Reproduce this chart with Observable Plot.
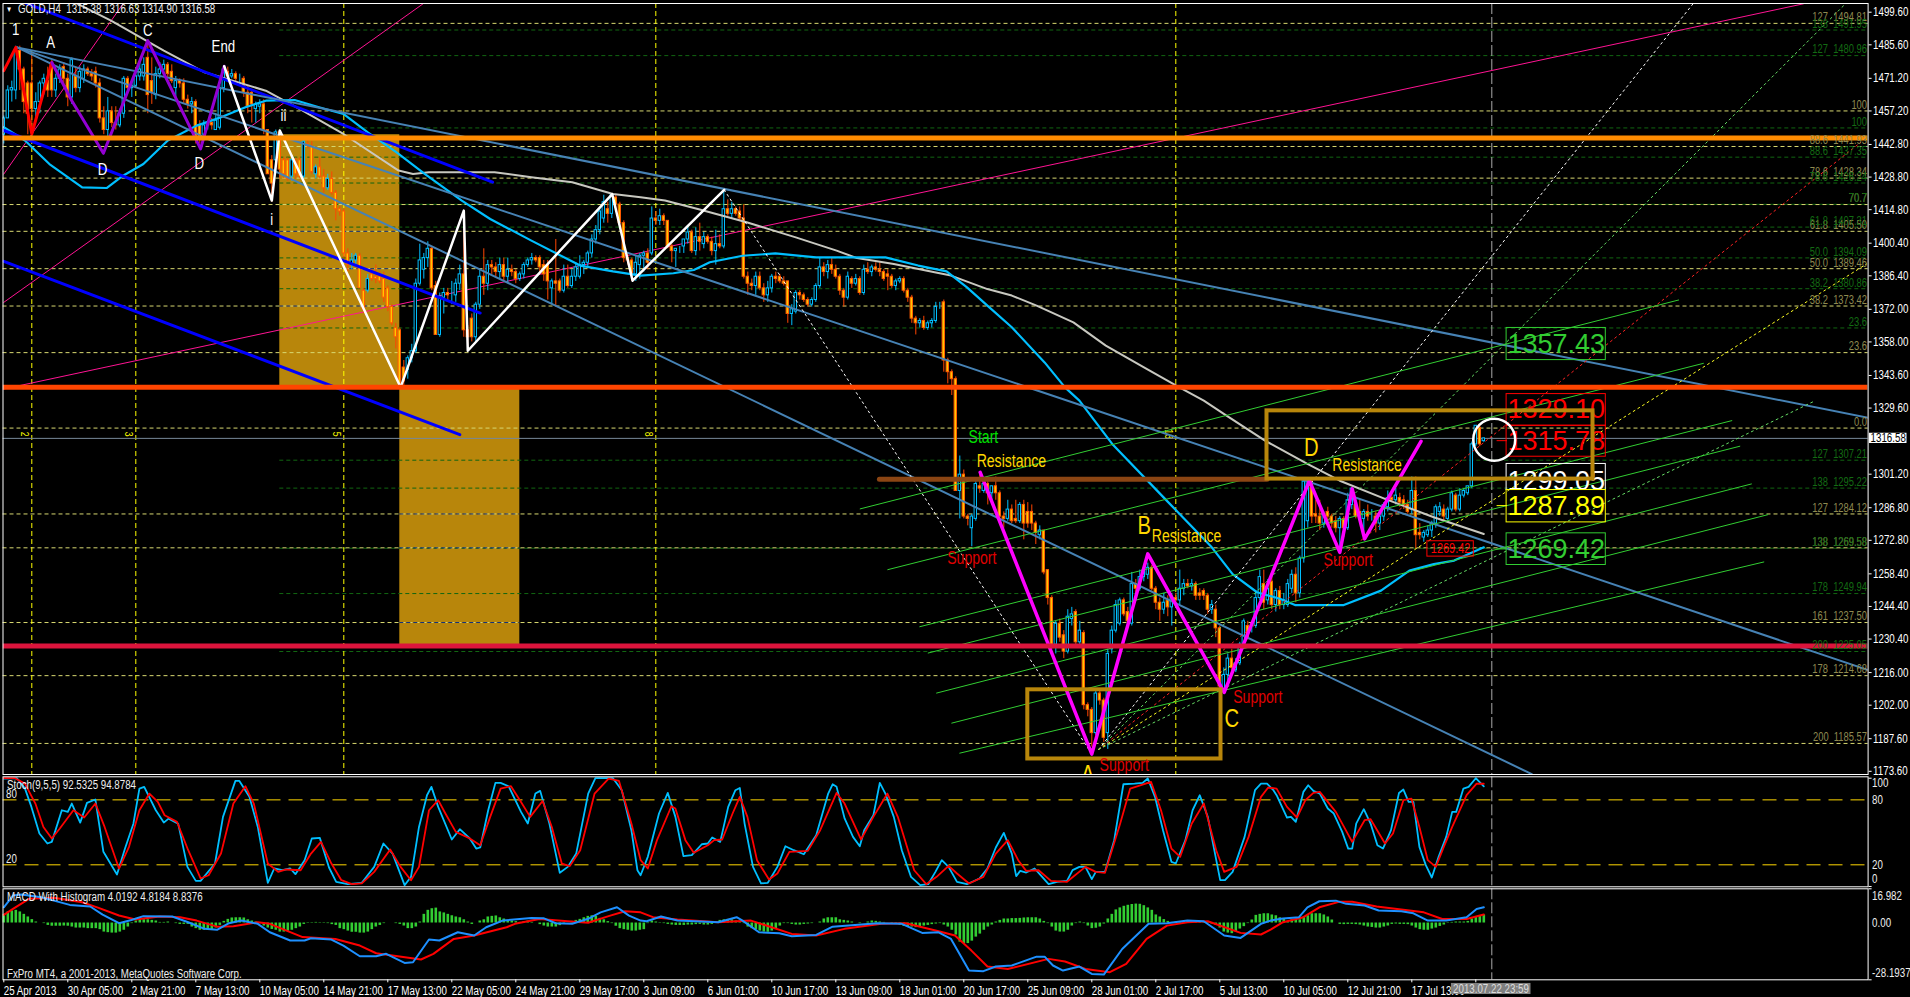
<!DOCTYPE html>
<html><head><meta charset="utf-8">
<style>html,body{margin:0;padding:0;background:#000;overflow:hidden}svg{display:block}</style>
<script src="https://cdn.jsdelivr.net/npm/d3@7"></script>
<script src="https://cdn.jsdelivr.net/npm/@observablehq/plot@0.6"></script>
</head><body><div id="chart"></div>
<script>
// GOLD H4 candles [open, high, low, close]
const barsA=[[1447,1455,1443,1454],[1454,1468,1454,1466],[1466,1470,1461,1467],[1466,1485,1462,1483],[1483,1485,1466,1475],[1475,1476,1456,1461],[1469,1470,1447,1456],[1469,1482,1447,1458],[1458,1465,1453,1461],[1461,1470,1456,1469],[1469,1473,1464,1471],[1470,1476,1463,1466],[1477,1479,1463,1466],[1466,1473,1463,1471],[1471,1477,1469,1475],[1476,1478,1468,1471],[1471,1473,1459,1463],[1463,1480,1460,1479],[1472,1476,1465,1467],[1467,1476,1465,1474],[1471,1477,1469,1475],[1475,1476,1472,1473],[1473,1475,1470,1472],[1474,1476,1467,1469],[1469,1471,1452,1454],[1454,1459,1447,1449],[1449,1463,1446,1457],[1457,1459,1450,1452],[1452,1459,1449,1451],[1451,1458,1450,1456],[1456,1472,1454,1471],[1471,1472,1465,1467],[1467,1470,1463,1468],[1468,1474,1467,1472],[1472,1478,1470,1475],[1472,1480,1470,1477],[1480,1487,1456,1464],[1470,1480,1460,1465],[1464,1476,1462,1473],[1473,1478,1471,1475],[1475,1479,1473,1477],[1477,1478,1471,1473],[1474,1477,1469,1470],[1467,1472,1463,1470],[1470,1471,1467,1469],[1469,1471,1460,1462],[1462,1464,1458,1460],[1460,1463,1456,1461],[1461,1462,1443,1445],[1451,1453,1443,1445],[1447,1453,1445,1451],[1451,1453,1449,1452],[1452,1454,1449,1451],[1449,1456,1449,1453],[1450,1468,1449,1467],[1467,1476,1465,1475],[1474,1476,1470,1472],[1472,1475,1471,1473],[1473,1474,1469,1471],[1471,1473,1468,1471],[1471,1472,1463,1465],[1465,1468,1456,1459],[1465,1466,1452,1460],[1458,1461,1452,1460],[1459,1462,1456,1460],[1460,1462,1447,1449],[1449,1449,1430,1430],[1436,1438,1418,1426],[1436,1449,1430,1448],[1448,1449,1428,1432],[1436,1437,1428,1430],[1436,1437,1427,1428],[1429,1437,1427,1436],[1435,1437,1428,1430],[1436,1437,1428,1429],[1429,1445,1428,1444],[1443,1445,1441,1442],[1442,1444,1430,1431],[1430,1434,1428,1433],[1433,1437,1428,1429],[1429,1432,1422,1424],[1424,1430,1423,1428],[1428,1431,1421,1422],[1422,1423,1410,1415],[1415,1416,1412,1414],[1414,1415,1394,1396],[1396,1398,1388,1391],[1391,1396,1389,1393],[1393,1396,1390,1395],[1395,1396,1381,1381],[1380,1381,1370,1372],[1380,1387,1379,1385],[1387,1389,1384,1385],[1386,1391,1383,1385],[1386,1388,1383,1384],[1385,1388,1375,1377],[1381,1382,1371,1373],[1373,1374,1365,1366],[1364,1366,1355,1360],[1363,1364,1339,1340]];
const barsB=[[1347,1350,1339,1341],[1346,1352,1342,1351],[1351,1357,1349,1354],[1354,1385,1353,1383],[1383,1400,1382,1393],[1389,1396,1385,1394],[1394,1401,1390,1398],[1398,1399,1380,1381],[1382,1384,1361,1361],[1361,1379,1360,1377],[1377,1381,1370,1379],[1379,1381,1375,1378],[1378,1384,1374,1378],[1378,1385,1375,1383],[1383,1391,1380,1387],[1387,1414,1360,1363],[1363,1365,1354,1360],[1368,1370,1358,1360],[1360,1375,1358,1374],[1374,1389,1372,1386],[1386,1398,1378,1383],[1383,1393,1380,1391],[1391,1393,1387,1390],[1390,1392,1386,1388],[1388,1394,1385,1391],[1391,1394,1384,1386],[1386,1394,1383,1389],[1389,1391,1386,1388],[1388,1389,1383,1385],[1385,1388,1384,1387],[1387,1392,1385,1391],[1391,1394,1390,1393],[1393,1396,1391,1394],[1394,1395,1392,1393],[1394,1395,1388,1390],[1391,1393,1384,1387],[1391,1393,1376,1384],[1381,1385,1374,1384],[1384,1402,1373,1383],[1384,1385,1379,1380],[1380,1391,1379,1386],[1386,1391,1381,1382],[1382,1389,1381,1386],[1386,1392,1384,1390],[1386,1395,1385,1391],[1391,1393,1387,1392],[1392,1397,1390,1396],[1396,1404,1394,1402],[1402,1408,1400,1406],[1406,1416,1404,1414],[1411,1421,1409,1418],[1415,1418,1409,1413],[1413,1421,1411,1421],[1420,1421,1415,1417],[1417,1418,1407,1409],[1409,1410,1392,1394],[1394,1396,1391,1393],[1393,1394,1384,1387],[1387,1395,1384,1392],[1391,1396,1385,1395],[1395,1397,1388,1396],[1396,1398,1389,1392],[1396,1416,1395,1411],[1411,1414,1408,1410],[1410,1415,1408,1412],[1412,1413,1408,1410],[1410,1410,1398,1399],[1399,1400,1392,1397],[1397,1398,1390,1398],[1398,1399,1396,1398],[1399,1402,1396,1402],[1402,1408,1400,1405],[1405,1406,1396,1397],[1397,1407,1395,1403],[1403,1409,1397,1401],[1400,1405,1398,1403],[1403,1404,1400,1401],[1401,1403,1395,1397],[1397,1406,1391,1400],[1400,1404,1398,1399],[1399,1423,1398,1415],[1415,1419,1412,1413],[1413,1418,1411,1415],[1415,1416,1412,1413],[1414,1416,1410,1411],[1411,1417,1385,1386],[1386,1388,1378,1383],[1383,1385,1380,1382],[1382,1388,1378,1386],[1386,1388,1380,1381],[1381,1383,1375,1378],[1378,1384,1375,1381],[1381,1387,1379,1386],[1386,1388,1383,1385],[1386,1387,1383,1384],[1384,1386,1382,1383],[1384,1384,1366,1370],[1370,1374,1365,1372],[1371,1380,1370,1379],[1379,1380,1376,1378]];
const barsC=[[1378,1379,1375,1376],[1376,1377,1373,1374],[1374,1377,1373,1376],[1376,1383,1375,1382],[1382,1394,1381,1390],[1390,1392,1386,1388],[1388,1393,1385,1391],[1391,1394,1387,1389],[1389,1391,1385,1386],[1386,1387,1378,1380],[1380,1381,1373,1377],[1377,1388,1376,1386],[1385,1386,1381,1383],[1383,1387,1382,1385],[1385,1386,1378,1379],[1379,1391,1378,1389],[1389,1392,1387,1388],[1388,1391,1386,1390],[1390,1392,1388,1389],[1389,1392,1386,1388],[1388,1389,1384,1385],[1387,1389,1380,1386],[1386,1387,1381,1382],[1382,1385,1380,1384],[1384,1386,1383,1385],[1385,1386,1379,1380],[1380,1381,1375,1377],[1377,1378,1366,1368],[1368,1369,1361,1366],[1366,1368,1364,1367],[1367,1369,1363,1364],[1364,1367,1363,1366],[1366,1368,1364,1367],[1367,1375,1366,1373],[1373,1375,1372,1373],[1375,1376,1345,1350],[1350,1351,1340,1345],[1345,1346,1335,1342],[1342,1343,1294,1294],[1294,1309,1282,1301],[1301,1303,1282,1283],[1283,1284,1279,1282],[1278,1284,1270,1283],[1282,1298,1281,1297],[1296,1302,1293,1295],[1294,1299,1293,1297],[1297,1299,1288,1293],[1293,1296,1290,1296],[1296,1300,1290,1293],[1293,1294,1281,1283],[1283,1285,1278,1282],[1282,1290,1281,1286],[1286,1288,1280,1281],[1282,1290,1280,1281],[1281,1289,1280,1288],[1288,1290,1273,1280],[1285,1289,1278,1280],[1285,1288,1277,1280],[1280,1281,1271,1276],[1275,1279,1273,1277],[1277,1277,1258,1259],[1260,1260,1245,1248],[1248,1249,1226,1228],[1228,1238,1224,1237],[1237,1239,1229,1231],[1232,1234,1222,1225],[1225,1243,1224,1240],[1239,1244,1236,1241],[1242,1243,1228,1229],[1229,1238,1227,1234],[1233,1234,1200,1202],[1202,1203,1197,1200],[1200,1201,1184,1190],[1190,1208,1189,1207],[1207,1209,1202,1204],[1204,1205,1186,1188],[1190,1226,1183,1224],[1226,1236,1224,1234],[1234,1247,1233,1245],[1237,1248,1236,1247],[1247,1248,1240,1241],[1242,1244,1236,1238],[1237,1259,1236,1254],[1254,1256,1250,1252],[1252,1260,1251,1257],[1257,1262,1255,1260],[1258,1263,1256,1261],[1261,1262,1251,1252],[1252,1253,1243,1246],[1246,1248,1238,1243],[1243,1250,1241,1246],[1247,1249,1240,1244],[1244,1250,1236,1248],[1248,1250,1245,1247],[1247,1260,1245,1252],[1252,1256,1249,1254],[1254,1256,1252,1253],[1253,1256,1251,1254],[1254,1255,1247,1249],[1250,1252,1247,1249]];
const barsD=[[1251,1252,1247,1249],[1249,1250,1241,1243],[1243,1247,1241,1245],[1243,1245,1231,1235],[1235,1236,1208,1210],[1209,1218,1207,1215],[1215,1224,1212,1222],[1222,1226,1216,1218],[1217,1222,1216,1220],[1220,1229,1219,1228],[1228,1239,1227,1238],[1236,1238,1230,1231],[1236,1238,1233,1236],[1236,1251,1235,1248],[1248,1260,1247,1257],[1254,1260,1243,1246],[1247,1256,1245,1252],[1255,1258,1243,1245],[1245,1252,1242,1251],[1251,1253,1243,1245],[1245,1250,1243,1247],[1245,1256,1244,1254],[1252,1260,1250,1258],[1258,1261,1246,1250],[1250,1266,1248,1265],[1265,1299,1263,1298],[1281,1299,1278,1298],[1298,1299,1280,1283],[1284,1290,1280,1283],[1283,1290,1277,1280],[1280,1285,1278,1284],[1285,1287,1280,1283],[1283,1284,1278,1280],[1281,1283,1276,1278],[1278,1283,1268,1282],[1282,1283,1274,1278],[1278,1293,1277,1290],[1288,1295,1286,1295],[1288,1290,1282,1283],[1285,1290,1281,1283],[1282,1286,1274,1285],[1285,1288,1281,1283],[1283,1286,1281,1283],[1283,1285,1276,1280],[1280,1284,1277,1283],[1283,1289,1281,1288],[1287,1294,1285,1291],[1291,1294,1289,1290],[1290,1295,1288,1292],[1291,1293,1287,1289],[1290,1292,1286,1288],[1288,1290,1284,1285],[1286,1300,1284,1294],[1294,1300,1269,1275],[1276,1280,1273,1275],[1274,1277,1272,1276],[1275,1279,1274,1277],[1277,1281,1274,1280],[1280,1288,1278,1287],[1285,1289,1283,1287],[1286,1288,1281,1283],[1282,1287,1281,1286],[1286,1294,1285,1293],[1292,1293,1285,1286],[1286,1295,1285,1292],[1292,1295,1291,1294],[1293,1296,1292,1296],[1296,1315,1295,1314],[1314,1322,1313,1322],[1321,1322,1313,1314],[1315.38,1316.63,1314.9,1316.58]];
// moving averages [bar, price]
const maSlow=[[17.6,1503.9],[26.8,1496],[40,1483.1],[50.2,1473.8],[65.5,1465.9],[74.7,1457.3],[84.9,1447.3],[98.7,1431.6],[102.3,1430.1],[106.3,1430.9],[122.7,1430.9],[131.9,1428.7],[142.1,1426.6],[152.3,1421.5],[159.2,1420.1],[165.3,1418.7],[173.5,1415.1],[185.7,1409.4],[198,1402.9],[208.2,1397.2],[213.3,1394],[222.5,1391.5],[232.7,1387.9],[236.8,1386.5],[245.9,1380.7],[252,1377.9],[258.2,1373.6],[267.4,1366.4],[275.5,1356.4],[285.7,1346.4],[293.9,1338.5],[300,1332.8],[305.1,1327],[315.3,1315.6],[325.9,1305.6],[334,1298.4],[345.3,1290.6],[357.5,1282.7],[370,1275.5]];
const maFast=[[0,1450.2],[5.3,1444.5],[11.4,1434.4],[19.6,1424.4],[25.7,1424.1],[29.8,1429.4],[34.9,1434.4],[41,1444.5],[48.2,1450.9],[54.3,1454.5],[60.4,1458.8],[65.5,1461.6],[72.7,1461.9],[78.8,1458.8],[84.9,1455.9],[91,1448],[98.2,1439.4],[105.3,1430.1],[114.5,1418.7],[121.6,1410.8],[131.9,1401.5],[144.1,1390.8],[152.3,1388.3],[159.2,1386.5],[167.4,1387.5],[172.5,1388.9],[176.5,1392.2],[184.7,1395],[192.9,1396],[203.1,1394.3],[220.4,1394.3],[228.6,1390.8],[235.7,1388.3],[240.8,1381.4],[245.9,1373.6],[252,1364.3],[260.2,1349.2],[265.3,1338.5],[268.9,1332.8],[277.1,1314.2],[290.3,1290.6],[302,1269.8],[307.2,1258.3],[313.3,1250.5],[319.2,1247.6],[322.8,1245],[335,1245],[344.3,1251.2],[351.4,1259.8],[357.5,1262.6],[362.6,1264.1],[370,1269.8]];
// hand-drawn lines [bar, price]
const zigRed=[[0,1474.5],[3,1484.5],[7,1447.3],[12,1478]];
const zigPurple=[[12,1478],[17,1461.6],[24.9,1439],[36,1487.4],[49.2,1440.9],[55.1,1476.4]];
const zigWhite=[[55.1,1476.4],[67,1418.7],[69,1448.8],[99.2,1338.5],[115,1414.4],[116,1354.2],[152.1,1421.5],[157.2,1384.3],[180.1,1423.3]];
const zigMagenta=[[244.1,1302],[272,1181],[286,1267],[305.1,1207.5],[326.4,1298.4],[334,1267.6],[337.1,1294.9],[340.2,1273.4],[354.3,1315.3]];
const blueChannels=[[[4.8,1503.9],[122.2,1426.6]],[[0,1448.8],[119.1,1370.4]],[[0,1392.6],[114,1318.2]]];
const steelFan=[[[3.3,1484.5],[466.1,1325.4]],[[3.3,1484.5],[466.1,1217.1]],[[3.3,1484.5],[382,1172.4]]];
const pinkLines=[[[0,1430.1],[29.8,1503.2]],[[0,1375],[104.8,1503.2]],[[0,1337.8],[449.9,1503.2]]];
const greenChannels=[[[214.1,1286.3],[418.7,1376]],[[221,1260.2],[424.9,1348.8]],[[229,1235.7],[432,1324.2]],[[231.1,1224.4],[434,1313.2]],[[233.2,1207.2],[436.9,1297]],[[237,1194.3],[441,1283.8]],[[239,1181.4],[440,1263.5]]];
const dottedFan=[{c:"#ffffff",p:[[273.7,1183],[422.3,1503.2]]},{c:"#66dd66",p:[[273.7,1183],[460,1502.5]]},{c:"#ff2222",p:[[273.7,1183],[464.2,1443.7]]},{c:"#ffff22",p:[[273.7,1183],[465.7,1391.5]]},{c:"#66dd66",p:[[273.7,1183],[452.9,1332.8]]},{c:"#ffffff",p:[[180.1,1423.3],[272,1181]]}];
// levels
const khakiLevels=[[1494.81,"127  1494.81"],[1457.2,"100"],[1441.93,"88.6  1441.93"],[1428.34,"78.6  1428.34"],[1417,"70.7"],[1405.5,"61.8  1405.50"],[1389.46,"50.0  1389.46"],[1373.42,"38.2  1373.42"],[1353.4,"23.6"],[1321,"0.0"],[1284.12,"127  1284.12"],[1269.58,"138  1269.58"],[1237.5,"161  1237.50"],[1214.68,"178  1214.68"],[1185.57,"200  1185.57"]];
const greenLevels=[[1491.95,"138  1491.95"],[1480.96,"127  1480.96"],[1449.9,"100"],[1437.35,"88.6  1437.35"],[1426.24,"78.6  1426.24"],[1417.1,"70.7"],[1407.31,"61.8  1407.31"],[1394.09,"50.0  1394.09"],[1380.86,"38.2  1380.86"],[1364,"23.6"],[1307.21,"127  1307.21"],[1295.22,"138  1295.22"],[1269.4,"138  1269.58"],[1249.94,"178  1249.94"],[1225.05,"200  1225.05"]];
const thickLevels=[[1445.6,"#FF8C00"],[1338.5,"#FF4500"],[1227.4,"#DC143C"]];
const lastPrice=1316.58;
const timeZones=[[7,"2"],[33,"3"],[85,"5"],[163,"8"],[293,"13"]];
const shadedBoxes=[[69,99,1338.5,1447],[99,129,1228,1338.5]];
const shadedDashes=[[69,99,1405.5],[69,99,1389.46],[69,99,1373.42],[99,129,1284.12],[99,129,1269.58],[99,129,1237.5]];
const goldBoxes=[[256,304.3,1178.9,1208.6],[315.8,397.3,1299.1,1328.4]];
const resistanceBar=[[218.9,1299],[315.8,1299]];
const bigLabels=[["1357.43","#32CD32",1350.2,1364,1357],["1329.10","#FF0000",1322,1335.6,1329],["1315.78","#FF0000",1308.7,1322,1315.4],["1299.05","#FFFFFF",1294.4,1305.6,1298],["1287.89","#FFFF00",1280.5,1294.4,1287.4],["1269.42","#32CD32",1262.2,1275.8,1269]];
const labelLeaders=[[[373.3,1315.6],[375.7,1315.6],"#FF0000"],[[373.3,1287.7],[375.7,1287.7],"#FFFF00"],[[373.3,1269.1],[375.7,1269.1],"#32CD32"]];
const whiteNotes=[["1",3,1492],["A",11.7,1486.7],["C",36,1491.7],["End",54.9,1485],["D",24.7,1432],["D",48.9,1434.4],["ii",69.9,1455.2],["i",67,1410.5]];
const smallNotes=[["Start","#00E000",244.9,1317],["Resistance","#FFD700",251.9,1306.6],["Support","#E00000",242,1265.2],["Resistance","#FFD700",295.7,1274.5],["Support","#E00000",280.1,1176],["Support","#E00000",313.5,1205.6],["Resistance","#FFD700",340.8,1304.9],["Support","#E00000",336.1,1264.1]];
const largeNotes=[["B",285.1,1279.1],["A",271,1172],["C",307,1196.3],["D",326.9,1312.5]];
const priceTicks=[1499.6,1485.6,1471.2,1457.2,1442.8,1428.8,1414.8,1400.4,1386.4,1372,1358,1343.6,1329.6,1301.2,1286.8,1272.8,1258.4,1244.4,1230.4,1216,1202,1187.6,1173.6];
// Stochastic [bar, value]
const stochMain=[[0,99.7],[3.3,100],[5.3,90.4],[6.9,73.5],[8.9,48.9],[10.9,39.7],[12,41.2],[14.5,70.4],[16,68.9],[17,76.6],[19.1,59],[20.8,77.2],[22.9,80.3],[24.9,32],[28.3,11],[30.3,35],[32.4,58],[33.9,90.4],[35.1,92],[38,70.4],[40,59],[41.2,62.7],[43.6,58],[45.9,18.1],[48,5.2],[49.2,5.2],[52.8,21.2],[54.8,64.3],[57.9,97.5],[58.9,97.5],[61.4,82.8],[63.5,55],[66,3.4],[67.6,16.6],[69.6,15.1],[71.6,16.6],[72.9,11.4],[75.2,24.3],[77,44.3],[79,44.9],[81.3,17.5],[83.1,4.3],[86,2.1],[89.5,3.4],[92.6,18.1],[94.9,39.7],[97.2,30.4],[100.2,1.2],[101.8,8.9],[103.8,55],[105.8,84.3],[106.9,92],[108.6,73.5],[112,43.4],[114,52.9],[116.5,44.3],[118.1,35],[119.1,36],[121.1,70.4],[122.9,95.7],[124.2,95.7],[126.2,92.6],[129.3,68.9],[131,58.1],[132.9,85.8],[134.1,88.3],[136.4,58.1],[139,12.6],[141,18.1],[143.1,30.4],[146.1,85.8],[147.9,100],[152.3,100],[154.5,88.9],[156.9,52],[158.4,15],[159.2,10.4],[161,27.4],[163.8,67.4],[166,86.4],[167.9,64.3],[169.9,28],[172,28.9],[174.5,39],[176,39.7],[177.1,45.2],[179.1,41.2],[181.1,73.5],[182.9,88.9],[184,91],[185.2,58.1],[187.3,18.1],[189.3,2.8],[191,3.4],[193.4,18.1],[195.4,37.2],[197.5,33.5],[200,29.8],[203.1,47.4],[206.1,85.8],[207.2,94.4],[208.2,92],[210.2,62.8],[212.3,45.8],[214,37.2],[215.1,52],[217.4,65.8],[219,95.7],[220.4,85.8],[222.5,64.3],[224.5,33.5],[226.8,8.9],[229.1,1.2],[231.1,2.1],[232.9,13.5],[234.5,24.3],[236.2,18.1],[238.3,4.3],[240.8,2.1],[243.9,7.4],[245.9,16.6],[248,36],[250,49.5],[252,30.4],[253.1,9.5],[254.1,14.4],[255.6,12.9],[257.7,16.6],[259.2,10.4],[261.2,2.1],[263.3,4.3],[265.8,5.2],[267.2,15.1],[268.9,18.1],[270.4,18.1],[272,6.8],[273,13.5],[275.3,13.5],[277.6,42.8],[279.9,94.4],[282.7,95],[284.7,95.7],[286,99.7],[287.8,82.8],[289.8,52],[291.9,22.8],[293,21.2],[295.4,42.8],[297.2,70.4],[299,84.3],[301,64.3],[304.1,5.8],[305.3,5.8],[307.2,13.5],[310.2,45.8],[312.8,88.9],[314.3,95],[315.8,95],[317.4,88.9],[318.2,84.3],[320.8,63.7],[321.8,64.3],[323,59.7],[324.9,87.4],[326.1,93.5],[327.4,88.3],[329,85.8],[331,72],[332.5,67.4],[334.6,50.4],[336.1,35],[337.1,35],[338.1,58.1],[340,71.4],[341.7,58.1],[343.4,38.1],[344.8,35],[346.8,52],[348.8,86.4],[349.9,89.5],[351.2,78.1],[352.4,78.1],[353.9,36.6],[355.5,19.7],[357,8.3],[358.7,27.4],[360.6,45.8],[362.1,68.9],[363.1,68.9],[364.9,90.4],[366.2,92],[368,100],[370,92.53]];
const stochSignal=[[0,100],[2.8,100],[5.3,95],[7.9,76.6],[9.9,55],[12,44.3],[14,53.5],[17.4,70.4],[20.1,63.7],[22.9,76.6],[25.2,55],[28.8,16.6],[31.3,36.6],[33.9,70.4],[36.4,85.8],[38.5,78.1],[40.2,65.8],[43.3,59.7],[46.1,33.5],[49.2,7.4],[51.2,10.4],[54.3,30.4],[57.4,76.6],[60.4,92.6],[62.5,76.6],[66,21.2],[68.6,13.5],[70.6,15.7],[74.2,15],[76.8,30.4],[79.3,41.2],[81.9,21.2],[84.4,5.8],[87,2.1],[89.5,2.8],[92.6,13.5],[96.6,34.1],[99.2,18.1],[101.8,5.8],[103.8,18.1],[106.3,70.4],[108.6,79.7],[110.4,67.4],[113,50.4],[116.5,44.3],[119.1,38.1],[121.6,64.3],[124.2,90.4],[126.8,92.6],[129.3,78.1],[131.6,64.3],[134.7,79],[137,55],[139.5,21.2],[141.5,18.8],[144.1,33.5],[147.7,85.8],[151.2,99.7],[153.8,97.5],[156.9,58.1],[159.2,24.3],[161,16.6],[163.3,42.8],[166.9,74.1],[167.9,72],[170.4,42.8],[172.5,31.1],[176,38.1],[177.6,42.8],[179.6,43.4],[182.2,67.4],[184,82.8],[185.9,64.3],[188.3,24.3],[191.3,6.4],[193.4,12],[196.4,32],[201,32.9],[204.1,52],[208.2,86.4],[210.2,76.6],[214.3,43.4],[217.4,64.3],[220.9,85.8],[223.5,64.3],[227.6,15],[230.6,2.1],[233.2,8.9],[236.2,19],[238.3,12],[241.3,2.8],[244.9,8.9],[248,30.4],[251,42.8],[253.6,24.3],[255.6,14.4],[258.7,15],[261.8,5.2],[265.8,4.3],[270.4,18.1],[273,13.5],[275.3,12.6],[279.1,58.1],[281.6,90.4],[286.8,96.6],[289.3,70.4],[291.9,35],[294.1,27.4],[297,58.1],[300,76.6],[303.1,33.5],[305.1,13.5],[308.2,18.1],[311.2,45.8],[314.3,82.8],[316.1,91.4],[318.2,90.4],[320.8,73.5],[323.3,63.7],[325.4,79.7],[327.4,86.4],[329,87.4],[333,68.9],[337.1,41.2],[340.2,61.2],[341.7,62.1],[345.3,39.7],[347.3,48.9],[349.9,79.7],[351.9,81.2],[353.9,55],[356,24.3],[358,18.1],[360,36.6],[362.1,55],[365.7,84.3],[368.2,95],[370,94.88]];
const stochBands=[80,20];
// MACD [bar, value]
const macdMain=[[0,7.8],[2.3,13.6],[4.3,14.1],[9.4,12.8],[12.5,11.1],[16.5,9],[21.6,8.2],[24.7,4.2],[28.8,-0.1],[31.9,1.5],[34.9,3.4],[42.1,3.2],[46.1,0.4],[50.2,-2.9],[53.3,-3.4],[56.3,-0.1],[59.4,1.2],[63.5,-0.4],[66.5,-4.6],[71.6,-8.7],[75.2,-8.7],[76.8,-7.6],[81.9,-8.2],[84.9,-11.2],[89,-16.5],[93.1,-16.5],[95.6,-15.3],[100.2,-19.8],[102.3,-19.5],[106.3,-8.2],[108.9,-8.7],[113.5,-4.6],[117.6,-6.2],[120.6,-2.1],[124.7,1.2],[131.9,2.5],[134.9,2.4],[138,-0.1],[142.1,-0.4],[146.1,2.1],[149.2,5.3],[153.3,7.8],[156.3,3.7],[159.2,1.2],[160.7,0.9],[164.3,3.2],[168.4,1.2],[178.6,0.4],[183.2,2.9],[184.7,1.2],[188.8,-4.6],[193.9,-5.1],[197,-6.6],[203.1,-5.9],[207.2,-1.8],[218.4,-0.1],[224.5,-0.4],[229.6,-4.9],[233.7,-4.6],[236.8,-7.9],[241.3,-23.6],[244.9,-23.9],[248,-21.6],[252,-21.1],[258.2,-16.7],[260.2,-16.7],[262.3,-21.1],[264.8,-23.6],[268.9,-21.6],[272,-25.3],[275,-25.6],[279.6,-12.9],[286.2,-0.4],[290.8,-0.1],[295.9,1.2],[300,0.9],[305.1,-6.2],[309.2,-7.4],[314.3,-0.4],[316.7,1.2],[319.8,2.2],[323.8,2.9],[325.9,7.8],[328.9,10.8],[333,11.1],[335.6,9.5],[340.2,8.7],[343.7,6.2],[349.4,5.8],[352.4,4.8],[356,1.2],[360.6,1.2],[365.7,2.9],[368.2,7],[370,7.8]];
const macdSignal=[[0,4],[2.3,7],[6.3,12],[12.5,12.5],[19.6,10.3],[23.7,7.5],[28.8,3.7],[32.9,1.7],[39,3.2],[44.1,2.9],[48.2,1.2],[53.3,-1.8],[57.4,-1.6],[63.5,0.4],[66.5,-0.4],[74.7,-7],[82.9,-7.9],[89,-11.2],[93.1,-15],[104.3,-18.1],[107.4,-15.3],[112.5,-7.9],[117.6,-6.2],[125.7,-2.1],[127.8,-0.4],[133.9,2],[141,0.9],[146.1,0.1],[151.2,3.4],[155.3,5.8],[159.2,5.3],[162.3,2.9],[168.4,1.7],[178.6,0.4],[186.8,1.2],[197,-5.4],[203.1,-6.2],[210.2,-2.9],[219.4,-0.4],[225.5,-0.1],[233.7,-4.1],[237.8,-6.2],[241.9,-13.7],[245.9,-21.6],[251,-22.8],[261.2,-17.8],[265.3,-19.1],[270.4,-22.8],[276.5,-24.4],[280.6,-20.3],[285.7,-7.9],[290.8,-1.3],[295.9,0.4],[301,0.9],[309.2,-4.9],[314.3,-5.7],[316.7,-3.3],[319.8,0.4],[324.9,2.9],[328.9,7.8],[334,10.6],[337.1,10.6],[343.2,8.2],[351.4,6.2],[355,5.3],[359.6,2],[365.7,2],[370,4.2]];
const macdHist=[4.3,5.5,6,6.3,5.5,4.3,3,1.7,.5,0,-.3,-1.2,-1.6,-1.6,-1.6,-1.5,-1.6,-2,-2.5,-2.5,-2.5,-2.8,-2.8,-2.8,-3.3,-4.5,-4.8,-5,-5,-4.5,-3.6,-2,-.3,1,1.6,1.6,1.6,1.3,1,.3,.3,.5,0,-.3,-.7,-.7,-.7,-2,-2.8,-3.6,-3.6,-3.6,-3.3,-2.5,-1.2,.8,1.8,2.5,2.6,2.6,2.5,1.6,1,.5,-.3,-1.5,-2.5,-3.2,-3.6,-4.5,-4.5,-4.1,-3.6,-2.8,-2,-.7,.2,.2,.3,.2,.2,-.3,-.8,-1.2,-2.8,-3.3,-4,-4.6,-4.6,-5,-5,-4.5,-3.3,-2,-1.2,-.3,0,0,-.3,-.7,-1.5,-2.8,-2.8,-2,.5,4.3,6.3,7.1,7.4,5.5,5,4.3,3.6,3,2.6,1.6,.5,-.7,0,1,1.6,3,3.3,3.5,2.6,2,1.3,1,.7,.3,.7,1,.3,0,-.8,-1.5,-2,-2,-2,-1.3,-.7,0,.8,1.3,1.8,2.6,3.3,3.6,3.3,2.3,1.6,.7,-.3,-1.6,-2.8,-3.3,-3.6,-4,-4,-3.6,-3.3,-.3,1,.5,.2,-.3,-.7,-1,-1.2,-1.2,-1.2,-1,-1,-.8,-.7,-1,-1,-.7,0,1.3,1.6,1.8,1.6,1,.7,-.3,-2,-2.8,-3.3,-4,-4.5,-4.6,-4,-3,-1.5,-.3,-.3,-.7,-1,-1,-.7,-.5,-.3,0,.5,2,2.6,2.6,2.6,1.6,1.3,1,.5,0,-.3,0,.5,1,.8,.5,.3,0,-.3,-.7,-1.2,-1.7,-2,-2,-2.3,-2,-1.5,-1.2,-.8,-.5,-.3,-1,-2,-3.6,-6,-9.5,-10.2,-10.2,-9,-7,-5.5,-3.6,-2,-1,.5,1.3,2,2,2.2,2.2,2.3,2.5,2.6,2.6,2.6,2,.8,-.3,-2,-4,-4.5,-4.5,-3.6,-1.5,-.3,.5,-.3,-1.5,-2.8,-2.6,-2,-.5,2,4.3,6.5,7.5,8.3,8.8,9.2,9.4,9.3,8.6,7.5,6.3,4,3,1.7,.8,.3,.5,.7,.7,.8,.8,.7,.7,.5,.5,-.5,-1.2,-2.5,-4.5,-5,-5.3,-4.5,-3,-1.8,-.3,1.5,3.8,4.3,4.6,4.6,4,3.6,2.6,1.8,.8,1.6,1.6,1.6,3,3.6,4.6,4.6,4.6,4,3,1.5,0,-.7,-.8,-.7,-.7,-.8,-1,-1.5,-2,-2.2,-2.5,-2.5,-2,-1.5,-.7,-.5,-.7,-.7,-.8,-1.5,-2.5,-3.3,-3.6,-3.6,-3,-2.5,-1.7,-1,-.2,.3,.5,.5,.5,.8,2,3,3.5,4];
const timeLabels=["25 Apr 2013","30 Apr 05:00","2 May 21:00","7 May 13:00","10 May 05:00","14 May 21:00","17 May 13:00","22 May 05:00","24 May 21:00","29 May 17:00","3 Jun 09:00","6 Jun 01:00","10 Jun 17:00","13 Jun 09:00","18 Jun 01:00","20 Jun 17:00","25 Jun 09:00","28 Jun 01:00","2 Jul 17:00","5 Jul 13:00","10 Jul 05:00","12 Jul 21:00","17 Jul 13:00"];

const SANS="'Liberation Sans',Arial,sans-serif";
const WIDTH=1910, ML=2.5, MR=42.4;
const XDOM=[-0.2,466.075];
const FUTURE=372;
const bars=[...barsA,...barsB,...barsC,...barsD].map((b,i)=>({i,o:b[0],h:b[1],l:b[2],c:b[3]}));
const up=bars.filter(b=>b.c>=b.o), down=bars.filter(b=>b.c<b.o);
const pairLine=(pts,o)=>Plot.line(pts,{x:"0",y:"1",clip:true,...o});
const nb=s=>s.replace(/ /g,"\u00A0");
const baseStyle={background:"#000",color:"#fff",fontFamily:SANS};

const candleMarks=[
  Plot.ruleX(up,{x:"i",y1:"l",y2:"h",stroke:"#00BFFF",strokeWidth:1,clip:true}),
  Plot.ruleX(down,{x:"i",y1:"l",y2:"h",stroke:"#FF4500",strokeWidth:1,clip:true}),
  Plot.rect(up,{x1:d=>d.i-.3,x2:d=>d.i+.3,y1:"o",y2:"c",fill:"#000",stroke:"#00BFFF",strokeWidth:1,clip:true}),
  Plot.rect(down,{x1:d=>d.i-.3,x2:d=>d.i+.3,y1:"o",y2:"c",fill:"#FFC800",stroke:"#FF5A00",strokeWidth:1,clip:true})
];

const main=Plot.plot({
  width:WIDTH,height:775,marginLeft:ML,marginRight:MR,marginTop:3,marginBottom:1,
  style:baseStyle,
  x:{domain:XDOM,axis:null},y:{domain:[1172.23,1503.34],axis:null},
  marks:[
    Plot.rect(shadedBoxes,{x1:"0",x2:"1",y1:"2",y2:"3",fill:"#B8860B"}),
    Plot.ruleY(greenLevels,{y:"0",x1:69,x2:XDOM[1],stroke:"#116611",strokeDasharray:"4 3"}),
    Plot.ruleY(khakiLevels,{y:"0",stroke:"#D8D870",strokeDasharray:"4 3"}),
    Plot.ruleY(shadedDashes,{y:"2",x1:"0",x2:"1",stroke:"#12307A",strokeDasharray:"4 3"}),
    Plot.ruleX(timeZones,{x:"0",stroke:"#FFFF00",strokeDasharray:"5 3"}),
    Plot.text(timeZones,{x:"0",y:1318.4,text:"1",dx:-7,rotate:90,fill:"#FFFF00",fontSize:11}),
    Plot.ruleX([FUTURE],{stroke:"#AAAAAA",strokeDasharray:"11 3",strokeWidth:1}),
    Plot.ruleY([lastPrice],{stroke:"#778899"}),
    ...pinkLines.map(p=>pairLine(p,{stroke:"#FF1493",strokeWidth:1})),
    ...candleMarks,
    pairLine(maSlow,{stroke:"#C8C8C0",strokeWidth:2}),
    pairLine(maFast,{stroke:"#00BFFF",strokeWidth:2.2}),
    ...blueChannels.map(p=>pairLine(p,{stroke:"#0000FF",strokeWidth:3})),
    ...steelFan.map(p=>pairLine(p,{stroke:"#4682B4",strokeWidth:2})),
    ...dottedFan.map(f=>pairLine(f.p,{stroke:f.c,strokeWidth:1,strokeDasharray:"2 3.5"})),
    ...greenChannels.map(p=>pairLine(p,{stroke:"#32CD32",strokeWidth:1})),
    pairLine(zigRed,{stroke:"#FF0000",strokeWidth:3}),
    pairLine(zigPurple,{stroke:"#9400D3",strokeWidth:3}),
    pairLine(zigWhite,{stroke:"#FFFFFF",strokeWidth:2.5}),
    pairLine(zigMagenta,{stroke:"#FF00FF",strokeWidth:3.5}),
    Plot.ruleY(thickLevels,{y:"0",stroke:"1",strokeWidth:5,clip:true}),
    Plot.text(bigLabels,{x:388.1,y:"4",text:"0",fill:"1",fontSize:27}),
    Plot.rect(bigLabels,{x1:375.7,x2:400.5,y1:"2",y2:"3",fill:"none",stroke:"1",strokeWidth:1}),
    pairLine(resistanceBar,{stroke:"#8B4513",strokeWidth:5,strokeLinecap:"round"}),
    Plot.rect(goldBoxes,{x1:"0",x2:"1",y1:"2",y2:"3",fill:"none",stroke:"#B8860B",strokeWidth:4}),
    ...labelLeaders.map(l=>pairLine(l.slice(0,2),{stroke:l[2],strokeWidth:1})),
    Plot.rect([[1]],{x1:355.9,x2:367.5,y1:1265.8,y2:1272.4,fill:"none",stroke:"#FF0000"}),
    Plot.text(["1269.42"],{x:361.7,y:1269.2,fill:"#FF0000",fontSize:14}),
    Plot.dot([[372.6,1316]],{x:"0",y:"1",r:21,fill:"none",stroke:"#fff",strokeWidth:2.5}),
    Plot.text(khakiLevels,{x:465.8,y:"0",text:d=>nb(d[1]),dy:-6,textAnchor:"end",fill:"#8F8A50",fontSize:12}),
    Plot.text(greenLevels,{x:465.8,y:"0",text:d=>nb(d[1]),dy:-6,textAnchor:"end",fill:"#136B13",fontSize:12}),
    Plot.text(whiteNotes,{x:"1",y:"2",text:"0",fill:"#fff",fontSize:17}),
    Plot.text(smallNotes,{x:"2",y:"3",text:"0",fill:"1",fontSize:18}),
    Plot.text(largeNotes,{x:"1",y:"2",text:"0",fill:"#FFD700",fontSize:26,clip:true}),
    Plot.frame({stroke:"#fff"}),
    Plot.axisY({anchor:"right",ticks:priceTicks,tickFormat:d3.format(".2f"),tickSize:3,tickPadding:2,label:null,fontSize:12.5,fill:"#fff",stroke:"#fff",strokeWidth:1}),
    Plot.rect([[1]],{x1:466.4,x2:475.8,y1:lastPrice-2.2,y2:lastPrice+2.2,fill:"#fff"}),
    Plot.text([lastPrice],{x:471.1,y:lastPrice,text:d=>d.toFixed(2),fill:"#000",fontSize:12.5}),
    Plot.text(["\u25BC"],{frameAnchor:"top-left",dx:3,dy:3,fill:"#fff",fontSize:8}),
    Plot.text([nb("GOLD,H4  1315.38 1316.63 1314.90 1316.58")],{frameAnchor:"top-left",dx:15,dy:1,fill:"#eee",fontSize:12.5})
  ]
});

const stoch=Plot.plot({
  width:WIDTH,height:113,marginLeft:ML,marginRight:MR,marginTop:1.3,marginBottom:1.7,
  style:baseStyle,
  x:{domain:XDOM,axis:null},y:{domain:[-0.3,101.3],axis:null},
  marks:[
    Plot.ruleY(stochBands,{stroke:"#FFD700",strokeWidth:1,strokeDasharray:"14 8"}),
    Plot.ruleX([FUTURE],{stroke:"#AAAAAA",strokeDasharray:"11 3"}),
    pairLine(stochMain,{stroke:"#00BFFF",strokeWidth:1.8}),
    pairLine(stochSignal,{stroke:"#FF0000",strokeWidth:1.8}),
    Plot.frame({stroke:"#fff"}),
    Plot.text(["Stoch(9,5,5) 92.5325 94.8784"],{frameAnchor:"top-left",dx:4,dy:3,fill:"#eee",fontSize:12.5}),
    Plot.text(stochBands,{x:XDOM[0],y:d=>d,text:d=>String(d),dx:3,dy:-6,textAnchor:"start",fill:"#eee",fontSize:12.5}),
    Plot.axisY({anchor:"right",ticks:[100,0],tickFormat:()=>"",tickSize:3,label:null,stroke:"#fff"}),
    Plot.text([100],{x:XDOM[1],y:d=>d,text:d=>String(d),dx:4,dy:5,textAnchor:"start",fill:"#eee",fontSize:12.5}),
    Plot.text([80,20],{x:XDOM[1],y:d=>d,text:d=>String(d),dx:4,textAnchor:"start",fill:"#eee",fontSize:12.5}),
    Plot.text([0],{x:XDOM[1],y:d=>d,text:d=>String(d),dx:4,dy:-7,textAnchor:"start",fill:"#eee",fontSize:12.5})
  ]
});

const tickBars=d3.range(0,369,16);
const macd=Plot.plot({
  width:WIDTH,height:109,marginLeft:ML,marginRight:MR,marginTop:0.3,marginBottom:17.7,
  style:baseStyle,
  x:{domain:XDOM,axis:null},y:{domain:[-28.1937,16.982],axis:null},
  marks:[
    Plot.ruleX([FUTURE],{stroke:"#AAAAAA",strokeDasharray:"11 3"}),
    Plot.ruleX(macdHist,{x:(d,i)=>i,y1:0,y2:d=>d,stroke:"#32CD32",strokeWidth:2.6}),
    pairLine(macdSignal,{stroke:"#FF0000",strokeWidth:2}),
    pairLine(macdMain,{stroke:"#1E90FF",strokeWidth:2}),
    Plot.frame({stroke:"#fff"}),
    Plot.text(["MACD With Histogram 4.0192 4.8184 8.8376"],{frameAnchor:"top-left",dx:4,dy:3,fill:"#eee",fontSize:12.5}),
    Plot.text(["FxPro MT4, a 2001-2013, MetaQuotes Software Corp."],{frameAnchor:"bottom-left",dx:4,dy:-2,fill:"#eee",fontSize:12.5}),
    Plot.axisY({anchor:"right",ticks:[16.982,-28.1937],tickFormat:()=>"",tickSize:3,label:null,stroke:"#fff"}),
    Plot.text(["16.982"],{x:XDOM[1],y:16.982,dx:4,dy:7,textAnchor:"start",fill:"#eee",fontSize:12.5}),
    Plot.text(["0.00"],{x:XDOM[1],y:0,dx:4,textAnchor:"start",fill:"#eee",fontSize:12.5}),
    Plot.text(["-28.1937"],{x:XDOM[1],y:-28.1937,dx:4,dy:-7,textAnchor:"start",fill:"#eee",fontSize:12.5}),
    Plot.axisX({anchor:"bottom",ticks:tickBars,tickFormat:d=>timeLabels[d/16]||"",tickSize:3,tickPadding:3,textAnchor:"start",label:null,fontSize:12.5,fill:"#fff",stroke:"#fff"}),
    Plot.rect([[1]],{x1:361.9,x2:381.8,y1:-35.5,y2:-30,fill:"#808080"}),
    Plot.text(["2013.07.22 23:59"],{x:371.8,y:-32.8,fill:"#ddd",fontSize:12.5})
  ]
});
const host=document.getElementById("chart");
host.append(main,stoch,macd);
// the terminal's type is a condensed face: condense the installed one by the same ratio
const CONDENSE=0.78;
host.querySelectorAll("svg text").forEach(t=>{
  const size=parseFloat(getComputedStyle(t).fontSize);
  if(size===27) return;
  const len=t.getComputedTextLength();
  if(len>0){t.setAttribute("textLength",(len*CONDENSE).toFixed(1));t.setAttribute("lengthAdjust","spacingAndGlyphs");}
});
</script></body></html>
